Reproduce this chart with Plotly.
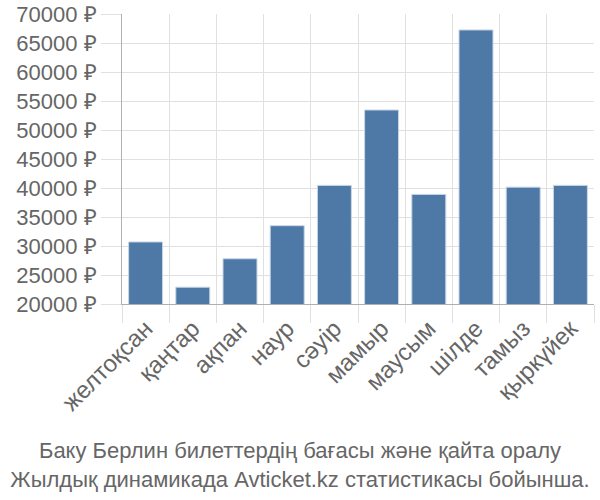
import plotly.graph_objects as go

months = ["желтоқсан", "қаңтар", "ақпан", "наур", "сәуір", "мамыр",
          "маусым", "шілде", "тамыз", "қыркүйек"]
prices = [30700, 22900, 27800, 33500, 40450, 53450, 38900, 67250, 40150, 40450]
tick_vals = [20000, 25000, 30000, 35000, 40000, 45000, 50000, 55000, 60000, 65000, 70000]
tick_text = [f"{v} ₽" for v in tick_vals]
title_lines = ["Баку Берлин билеттердің бағасы және қайта оралу",
               "Жылдық динамикада Avticket.kz статистикасы бойынша."]

font_family = "Liberation Sans, Arial, sans-serif"
text_color = "#666666"

fig = go.Figure(go.Bar(
    x=months, y=prices,
    marker=dict(color="#4e79a7", line=dict(color="#c9d6e6", width=1)),
    hoverinfo="skip",
))

fig.update_layout(
    width=600, height=500,
    margin=dict(l=122, r=6, t=14, b=196, autoexpand=False),
    paper_bgcolor="white", plot_bgcolor="white",
    bargap=0.28,
    showlegend=False,
    font=dict(family=font_family, color=text_color, size=22),
    title=dict(
        text="<br>".join(title_lines),
        x=0.5, xanchor="center",
        y=1 - 458 / 500, yanchor="middle",
        font=dict(family=font_family, color=text_color, size=22),
    ),
)

fig.update_xaxes(
    type="category",
    tickson="boundaries",
    showgrid=True, gridcolor="#e0e0e0", gridwidth=1,
    ticks="outside", ticklen=18, tickcolor="#e0e0e0",
    tickangle=-45,
    showline=True, linecolor="#b0b0b0", linewidth=1,
    tickfont=dict(size=24, color=text_color),
    automargin=False,
)
fig.update_yaxes(
    range=[20000, 70000],
    tickvals=tick_vals, ticktext=tick_text,
    showgrid=True, gridcolor="#e0e0e0", gridwidth=1,
    ticks="outside", ticklen=20, tickcolor="#e0e0e0",
    showline=True, linecolor="#b0b0b0", linewidth=1,
    zeroline=False,
    tickfont=dict(size=22, color=text_color),
    automargin=False,
)

fig.write_html("out.html")
